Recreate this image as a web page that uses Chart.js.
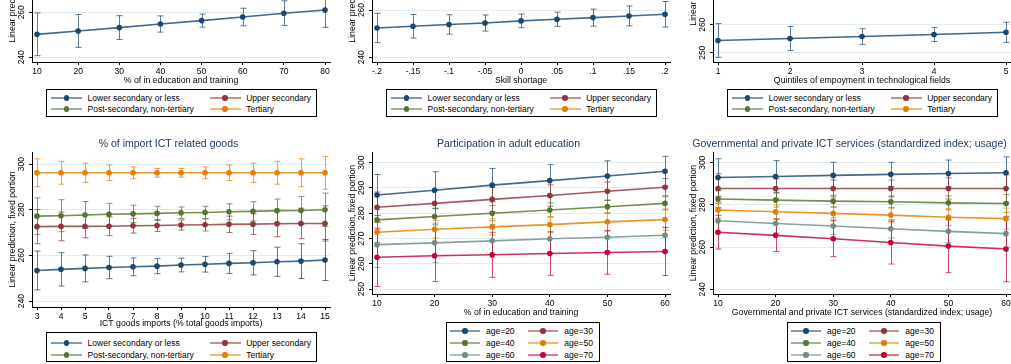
<!DOCTYPE html>
<html>
<head>
<meta charset="utf-8">
<script src="https://cdn.jsdelivr.net/npm/chart.js@4.4.1/dist/chart.umd.min.js"></script>
<style>
  html, body { margin: 0; padding: 0; background: #fff; }
  body { width: 1011px; height: 364px; overflow: hidden; position: relative;
         font-family: "Liberation Sans", Arial, Helvetica, sans-serif; }
  canvas { position: absolute; }
  .legend { position: absolute; border: 1px solid #000; box-sizing: border-box; background: #fff; }
  .item { position: absolute; height: 10px; white-space: nowrap; }
  .item .ln { position: absolute; left: 0; top: 4px; height: 2px; }
  .item .mk { position: absolute; top: 2.2px; width: 5.6px; height: 5.6px; border-radius: 50%; }
  .item .tx { position: absolute; top: 0; font-size: 8.5px; line-height: 10px; color: #000; }
</style>
</head>
<body>
<script>
// ---------- series names ----------
const eduLevels = ['Lower secondary or less', 'Upper secondary', 'Post-secondary, non-tertiary', 'Tertiary'];
const ageGroups = ['age=20', 'age=30', 'age=40', 'age=50', 'age=60', 'age=70'];

// ---------- top row: lower secondary or less ----------
const eduShareX = [10, 20, 30, 40, 50, 60, 70, 80];
const eduLowMean = [250.2, 251.7, 253.2, 254.8, 256.3, 257.9, 259.6, 261.0];
const eduLowLo   = [240.7, 244.4, 247.9, 251.2, 253.4, 254.0, 254.1, 253.3];
const eduLowHi   = [259.7, 259.0, 258.5, 258.4, 259.2, 261.8, 265.1, 268.7];

const skillX = [-0.2, -0.15, -0.1, -0.05, 0, 0.05, 0.1, 0.15, 0.2];
const skillLabels = ['-.2', '-.15', '-.1', '-.05', '0', '.05', '.1', '.15', '.2'];
const skillLowMean = [252.4, 253.1, 253.9, 254.5, 255.4, 256.1, 256.8, 257.5, 258.2];
const skillLowLo   = [246.2, 248.1, 249.8, 251.1, 252.5, 253.1, 253.2, 253.3, 252.8];
const skillLowHi   = [258.6, 258.1, 258.0, 257.9, 258.3, 259.1, 260.4, 261.7, 263.6];

const quintX = [1, 2, 3, 4, 5];
const quintLowMean = [254.4, 255.1, 255.8, 256.5, 257.3];
const quintLowLo   = [248.4, 250.8, 253.0, 254.0, 253.7];
const quintLowHi   = [260.4, 259.4, 258.6, 259.0, 260.9];

// ---------- % of import ICT related goods ----------
const ictImportX = [3, 4, 5, 6, 7, 8, 9, 10, 11, 12, 13, 14, 15];
const impLowMean = [253.4, 253.9, 254.3, 254.7, 255.0, 255.3, 255.8, 256.1, 256.5, 256.8, 257.2, 257.5, 258.0];
const impLowLo   = [244.9, 246.6, 248.4, 249.8, 251.1, 252.0, 252.8, 252.7, 252.1, 251.5, 250.8, 249.9, 249.0];
const impLowHi   = [261.9, 261.2, 260.2, 259.6, 258.9, 258.6, 258.8, 259.5, 260.9, 262.1, 263.6, 265.1, 267.0];
const impUpMean  = [272.6, 272.7, 272.7, 272.8, 273.0, 273.1, 273.3, 273.4, 273.6, 273.7, 273.9, 274.0, 274.0];
const impUpLo    = [265.1, 266.4, 267.7, 268.7, 269.8, 270.5, 271.1, 270.7, 270.0, 269.2, 268.2, 267.3, 266.3];
const impUpHi    = [280.1, 279.0, 277.7, 276.9, 276.2, 275.7, 275.5, 276.1, 277.2, 278.2, 279.6, 280.7, 281.7];
const impPostMean = [277.2, 277.4, 277.7, 278.0, 278.2, 278.4, 278.7, 278.8, 279.1, 279.3, 279.6, 279.7, 280.0];
const impPostLo   = [269.2, 270.4, 271.8, 273.2, 274.4, 275.3, 276.2, 276.1, 275.6, 275.1, 274.5, 273.6, 272.7];
const impPostHi   = [285.2, 284.4, 283.6, 282.8, 282.0, 281.5, 281.2, 281.5, 282.6, 283.5, 284.7, 285.8, 287.3];
const impTerMean = [296.2, 296.2, 296.2, 296.2, 296.2, 296.2, 296.2, 296.2, 296.2, 296.2, 296.2, 296.2, 296.2];
const impTerLo   = [290.1, 291.2, 292.0, 292.8, 293.6, 294.3, 294.3, 293.6, 292.8, 292.0, 291.2, 290.1, 289.0];
const impTerHi   = [302.3, 301.2, 300.4, 299.6, 298.8, 298.1, 298.1, 298.8, 299.6, 300.4, 301.2, 302.3, 303.4];

// ---------- Participation in adult education ----------
const adultEduX = [10, 20, 30, 40, 50, 60];
const adu20Mean = [287.2, 289.1, 291.1, 292.9, 294.7, 296.6];
const adu20Lo   = [279.1, 281.8, 284.5, 286.6, 288.7, 290.7];
const adu20Hi   = [295.3, 296.4, 297.7, 299.2, 300.7, 302.5];
const adu30Mean = [282.4, 283.9, 285.5, 287.0, 288.7, 290.3];
const adu30Lo   = [276.4, 278.7, 280.7, 282.8, 285.1, 286.9];
const adu30Hi   = [288.4, 289.1, 290.3, 291.2, 292.3, 293.7];
const adu40Mean = [277.4, 278.7, 280.0, 281.3, 282.6, 283.9];
const adu40Lo   = [273.4, 275.4, 277.0, 278.5, 280.0, 281.3];
const adu40Hi   = [281.4, 282.0, 283.0, 284.1, 285.2, 286.5];
const adu50Mean = [272.5, 273.7, 274.6, 275.5, 276.6, 277.5];
const adu50Lo   = [268.5, 270.2, 271.4, 272.3, 273.0, 273.3];
const adu50Hi   = [276.5, 277.2, 277.8, 278.7, 280.2, 281.7];
const adu60Mean = [267.6, 268.3, 269.1, 269.9, 270.5, 271.3];
const adu60Lo   = [258.6, 260.5, 262.6, 264.1, 264.9, 265.5];
const adu60Hi   = [276.6, 276.1, 275.6, 275.7, 276.1, 277.1];
const adu70Mean = [262.6, 263.2, 263.6, 264.1, 264.5, 264.9];
const adu70Lo   = [251.1, 253.0, 254.7, 255.5, 255.9, 255.4];
const adu70Hi   = [274.1, 273.4, 272.5, 272.7, 273.1, 274.4];

// ---------- Governmental and private ICT services ----------
const ictServX = [10, 20, 30, 40, 50, 60];
const srv20Mean = [293.0, 293.5, 294.0, 294.5, 294.9, 295.3];
const srv20Lo   = [284.1, 286.0, 287.8, 288.8, 288.5, 287.8];
const srv20Hi   = [301.9, 301.0, 300.2, 300.2, 301.3, 302.8];
const srv30Mean = [287.8, 287.8, 287.8, 287.8, 287.8, 287.8];
const srv30Lo   = [280.8, 283.2, 283.8, 283.8, 282.8, 281.3];
const srv30Hi   = [294.8, 292.4, 291.8, 291.8, 292.8, 294.3];
const srv40Mean = [282.8, 282.3, 281.8, 281.5, 281.0, 280.7];
const srv40Lo   = [278.8, 279.0, 279.0, 278.7, 277.7, 276.5];
const srv40Hi   = [286.8, 285.6, 284.6, 284.3, 284.3, 284.9];
const srv50Mean = [277.6, 276.8, 276.0, 275.2, 274.2, 273.5];
const srv50Lo   = [273.8, 273.6, 273.0, 271.9, 270.2, 268.5];
const srv50Hi   = [281.4, 280.0, 279.0, 278.5, 278.2, 278.5];
const srv60Mean = [272.5, 271.2, 270.0, 268.7, 267.5, 266.4];
const srv60Lo   = [267.0, 266.7, 266.0, 264.4, 262.2, 259.9];
const srv60Hi   = [278.0, 275.7, 274.0, 273.0, 272.8, 272.9];
const srv70Mean = [267.1, 265.6, 264.0, 262.2, 260.5, 259.1];
const srv70Lo   = [259.1, 258.0, 255.5, 252.0, 247.9, 243.6];
const srv70Hi   = [275.1, 273.2, 272.5, 272.4, 273.1, 274.6];

// ---------- styling ----------
const NAVY = '#1a476f', MAROON = '#90353b', GREEN = '#55752f',
      ORANGE = '#e37e00', TEAL = '#6e8e84', CRANBERRY = '#c10534';
const eduColors = [NAVY, MAROON, GREEN, ORANGE];
const ageColors = [NAVY, MAROON, GREEN, ORANGE, TEAL, CRANBERRY];

Chart.defaults.font.family = '"Liberation Sans", Arial, Helvetica, sans-serif';
Chart.defaults.color = '#000';

function rgba(hex, a) {
  const n = parseInt(hex.slice(1), 16);
  return `rgba(${(n >> 16) & 255},${(n >> 8) & 255},${n & 255},${a})`;
}

// capped confidence-interval spikes, drawn under the lines and markers
const ciBars = {
  id: 'ciBars',
  beforeDatasetsDraw(chart) {
    const { ctx, chartArea, scales: { x, y } } = chart;
    ctx.save();
    ctx.beginPath();
    ctx.rect(chartArea.left, chartArea.top, chartArea.right - chartArea.left, chartArea.bottom - chartArea.top);
    ctx.clip();
    ctx.lineWidth = 1;
    chart.data.datasets.forEach(ds => {
      ctx.strokeStyle = rgba(ds.baseColor, 0.72);
      ds.data.forEach((p, i) => {
        const px = Math.round(x.getPixelForValue(p.x)) + 0.5;
        const yl = y.getPixelForValue(ds.ciLow[i]);
        const yh = y.getPixelForValue(ds.ciHigh[i]);
        ctx.beginPath();
        ctx.moveTo(px, yl); ctx.lineTo(px, yh);
        ctx.moveTo(px - 3, yl); ctx.lineTo(px + 3, yl);
        ctx.moveTo(px - 3, yh); ctx.lineTo(px + 3, yh);
        ctx.stroke();
      });
    });
    ctx.restore();
  }
};

function series(name, color, mean, lo, hi) {
  return { name, color, mean, lo, hi };
}

function buildPanel(p) {
  const canvas = document.createElement('canvas');
  canvas.width = p.w; canvas.height = p.h;
  canvas.style.left = p.left + 'px';
  canvas.style.top = p.top + 'px';
  canvas.style.width = p.w + 'px';
  canvas.style.height = p.h + 'px';
  document.body.appendChild(canvas);

  const xs = p.x;
  const span = xs[xs.length - 1] - xs[0];
  const xPad = span * 5 / 288;

  const scales = {
    x: {
      type: 'linear',
      min: xs[0] - xPad,
      max: xs[xs.length - 1] + xPad,
      afterBuildTicks: s => { s.ticks = xs.map(v => ({ value: v })); },
      afterFit: s => { s.height = p.xH; },
      ticks: {
        autoSkip: false, minRotation: 0, maxRotation: 0, padding: 2,
        font: { size: 8.5 }, color: '#000',
        callback: (v, i) => p.xLabels ? p.xLabels[i] : String(xs[i])
      },
      grid: { drawOnChartArea: false, drawTicks: true, tickLength: 3, tickColor: '#000', color: '#000' },
      border: { display: true, color: '#000', width: 1 },
      title: { display: true, text: p.xTitle, font: { size: 8.7 }, color: '#000', padding: { top: 0, bottom: 0 } }
    },
    y: {
      type: 'linear',
      position: 'left',
      min: p.yMin, max: p.yMax,
      afterBuildTicks: s => { s.ticks = p.yTicks.map(v => ({ value: v })); },
      afterFit: s => { s.width = 32; },
      ticks: {
        autoSkip: false, minRotation: 90, maxRotation: 90, crossAlign: 'center', padding: 0,
        font: { size: 8.5 }, color: '#000'
      },
      grid: { color: '#e2ecef', lineWidth: 1, drawTicks: true, tickLength: 3, tickColor: '#000' },
      border: { display: true, color: '#000', width: 1 },
      title: { display: true, text: 'Linear prediction, fixed portion', font: { size: 8.7 }, color: '#000',
               padding: { top: 7.3, bottom: 0 } }
    }
  };
  if (p.title) {
    // empty right-hand strip so the heading centres on the whole panel
    scales.yPad = {
      axis: 'y', type: 'linear', position: 'right', display: true,
      ticks: { display: false }, grid: { display: false }, border: { display: false },
      afterFit: s => { s.width = 7; }
    };
  }

  new Chart(canvas, {
    type: 'line',
    data: {
      datasets: p.series.map(s => ({
        label: s.name,
        data: xs.map((v, i) => ({ x: v, y: s.mean[i] })),
        ciLow: s.lo, ciHigh: s.hi, baseColor: s.color,
        borderColor: rgba(s.color, 0.82), borderWidth: 1.6,
        pointRadius: 2.8, pointBackgroundColor: s.color, pointBorderColor: s.color, pointBorderWidth: 0,
        tension: 0, fill: false
      }))
    },
    options: {
      responsive: false, animation: false, devicePixelRatio: 1,
      layout: { padding: { left: 0, right: p.title ? 0 : 7, top: p.title ? 0 : 22, bottom: 0 } },
      plugins: {
        legend: { display: false },
        tooltip: { enabled: false },
        title: p.title ? {
          display: true, text: p.title, color: '#1e3a64',
          font: { size: 10.5, weight: 'normal' }, padding: { top: 8, bottom: 1.4 }
        } : { display: false }
      },
      scales
    },
    plugins: [ciBars]
  });
}

function buildLegend(L) {
  const box = document.createElement('div');
  box.className = 'legend';
  box.style.left = L.left + 'px';
  box.style.top = L.top + 'px';
  box.style.width = L.w + 'px';
  box.style.height = L.h + 'px';
  L.names.forEach((name, i) => {
    const col = i % 2, row = Math.floor(i / 2);
    const c = L.colors[i];
    const item = document.createElement('div');
    item.className = 'item';
    item.style.left = (L.colX[col] - 1) + 'px';
    item.style.top = Math.round(L.rowY[row] - 1 - 5) + 'px';
    item.innerHTML =
      `<span class="ln" style="width:${L.symW}px;background:${rgba(c, 0.55)}"></span>` +
      `<span class="mk" style="left:${L.symW / 2 - 2.8}px;background:${c}"></span>` +
      `<span class="tx" style="left:${L.textDx}px">${name}</span>`;
    box.appendChild(item);
  });
  document.body.appendChild(box);
}

// ---------- top row ----------
buildPanel({
  left: 0, top: -115, w: 337, h: 201, xH: 24,
  x: eduShareX, xTitle: '% of in education and training',
  yMin: 237.9, yMax: 306.8, yTicks: [240, 260, 280, 300],
  series: [series(eduLevels[0], NAVY, eduLowMean, eduLowLo, eduLowHi)]
});
buildPanel({
  left: 340, top: -115, w: 337, h: 201, xH: 24,
  x: skillX, xLabels: skillLabels, xTitle: 'Skill shortage',
  yMin: 238.0, yMax: 303.6, yTicks: [240, 260, 280, 300],
  series: [series(eduLevels[0], NAVY, skillLowMean, skillLowLo, skillLowHi)]
});
buildPanel({
  left: 681, top: -149, w: 337, h: 235, xH: 24,
  x: quintX, xTitle: 'Quintiles of empoyment in technological fields',
  yMin: 246.7, yMax: 314.2, yTicks: [250, 260, 280, 300],
  series: [series(eduLevels[0], NAVY, quintLowMean, quintLowLo, quintLowHi)]
});

// ---------- bottom row ----------
buildPanel({
  left: 0, top: 130, w: 337, h: 199, xH: 22,
  title: '% of import ICT related goods',
  x: ictImportX, xTitle: 'ICT goods imports (% total goods imports)',
  yMin: 237.4, yMax: 305.3, yTicks: [240, 260, 280, 300],
  series: [
    series(eduLevels[0], NAVY, impLowMean, impLowLo, impLowHi),
    series(eduLevels[1], MAROON, impUpMean, impUpLo, impUpHi),
    series(eduLevels[2], GREEN, impPostMean, impPostLo, impPostHi),
    series(eduLevels[3], ORANGE, impTerMean, impTerLo, impTerHi)
  ]
});
buildPanel({
  left: 340, top: 130, w: 337, h: 188, xH: 24,
  title: 'Participation in adult education',
  x: adultEduX, xTitle: '% of in education and training',
  yMin: 248.1, yMax: 304.2, yTicks: [250, 260, 270, 280, 290, 300],
  series: [
    series(ageGroups[0], NAVY, adu20Mean, adu20Lo, adu20Hi),
    series(ageGroups[1], MAROON, adu30Mean, adu30Lo, adu30Hi),
    series(ageGroups[2], GREEN, adu40Mean, adu40Lo, adu40Hi),
    series(ageGroups[3], ORANGE, adu50Mean, adu50Lo, adu50Hi),
    series(ageGroups[4], TEAL, adu60Mean, adu60Lo, adu60Hi),
    series(ageGroups[5], CRANBERRY, adu70Mean, adu70Lo, adu70Hi)
  ]
});
buildPanel({
  left: 681, top: 130, w: 337, h: 188, xH: 24,
  title: 'Governmental and private ICT services (standardized index; usage)',
  x: ictServX, xTitle: 'Governmental and private ICT services (standardized index; usage)',
  yMin: 237.8, yMax: 305.1, yTicks: [240, 260, 280, 300],
  series: [
    series(ageGroups[0], NAVY, srv20Mean, srv20Lo, srv20Hi),
    series(ageGroups[1], MAROON, srv30Mean, srv30Lo, srv30Hi),
    series(ageGroups[2], GREEN, srv40Mean, srv40Lo, srv40Hi),
    series(ageGroups[3], ORANGE, srv50Mean, srv50Lo, srv50Hi),
    series(ageGroups[4], TEAL, srv60Mean, srv60Lo, srv60Hi),
    series(ageGroups[5], CRANBERRY, srv70Mean, srv70Lo, srv70Hi)
  ]
});

// ---------- legends ----------
const eduLegend = { names: eduLevels, colors: eduColors, w: 271, symW: 31, textDx: 36.6, colX: [5, 163.6] };
buildLegend(Object.assign({ left: 46, top: 89, h: 28, rowY: [9, 20.4] }, eduLegend));
buildLegend(Object.assign({ left: 386, top: 89, h: 28, rowY: [9, 20.4] }, eduLegend));
buildLegend(Object.assign({ left: 727, top: 89, h: 28, rowY: [9, 20.4] }, eduLegend));
buildLegend(Object.assign({ left: 46, top: 332, h: 30, rowY: [10.6, 22.6] }, eduLegend));

const ageLegend = { names: ageGroups, colors: ageColors, w: 154, h: 40, symW: 30, textDx: 36,
                    colX: [4, 82.3], rowY: [8.6, 20.6, 32.6] };
buildLegend(Object.assign({ left: 446, top: 322 }, ageLegend));
buildLegend(Object.assign({ left: 787, top: 322 }, ageLegend));
</script>
</body>
</html>
